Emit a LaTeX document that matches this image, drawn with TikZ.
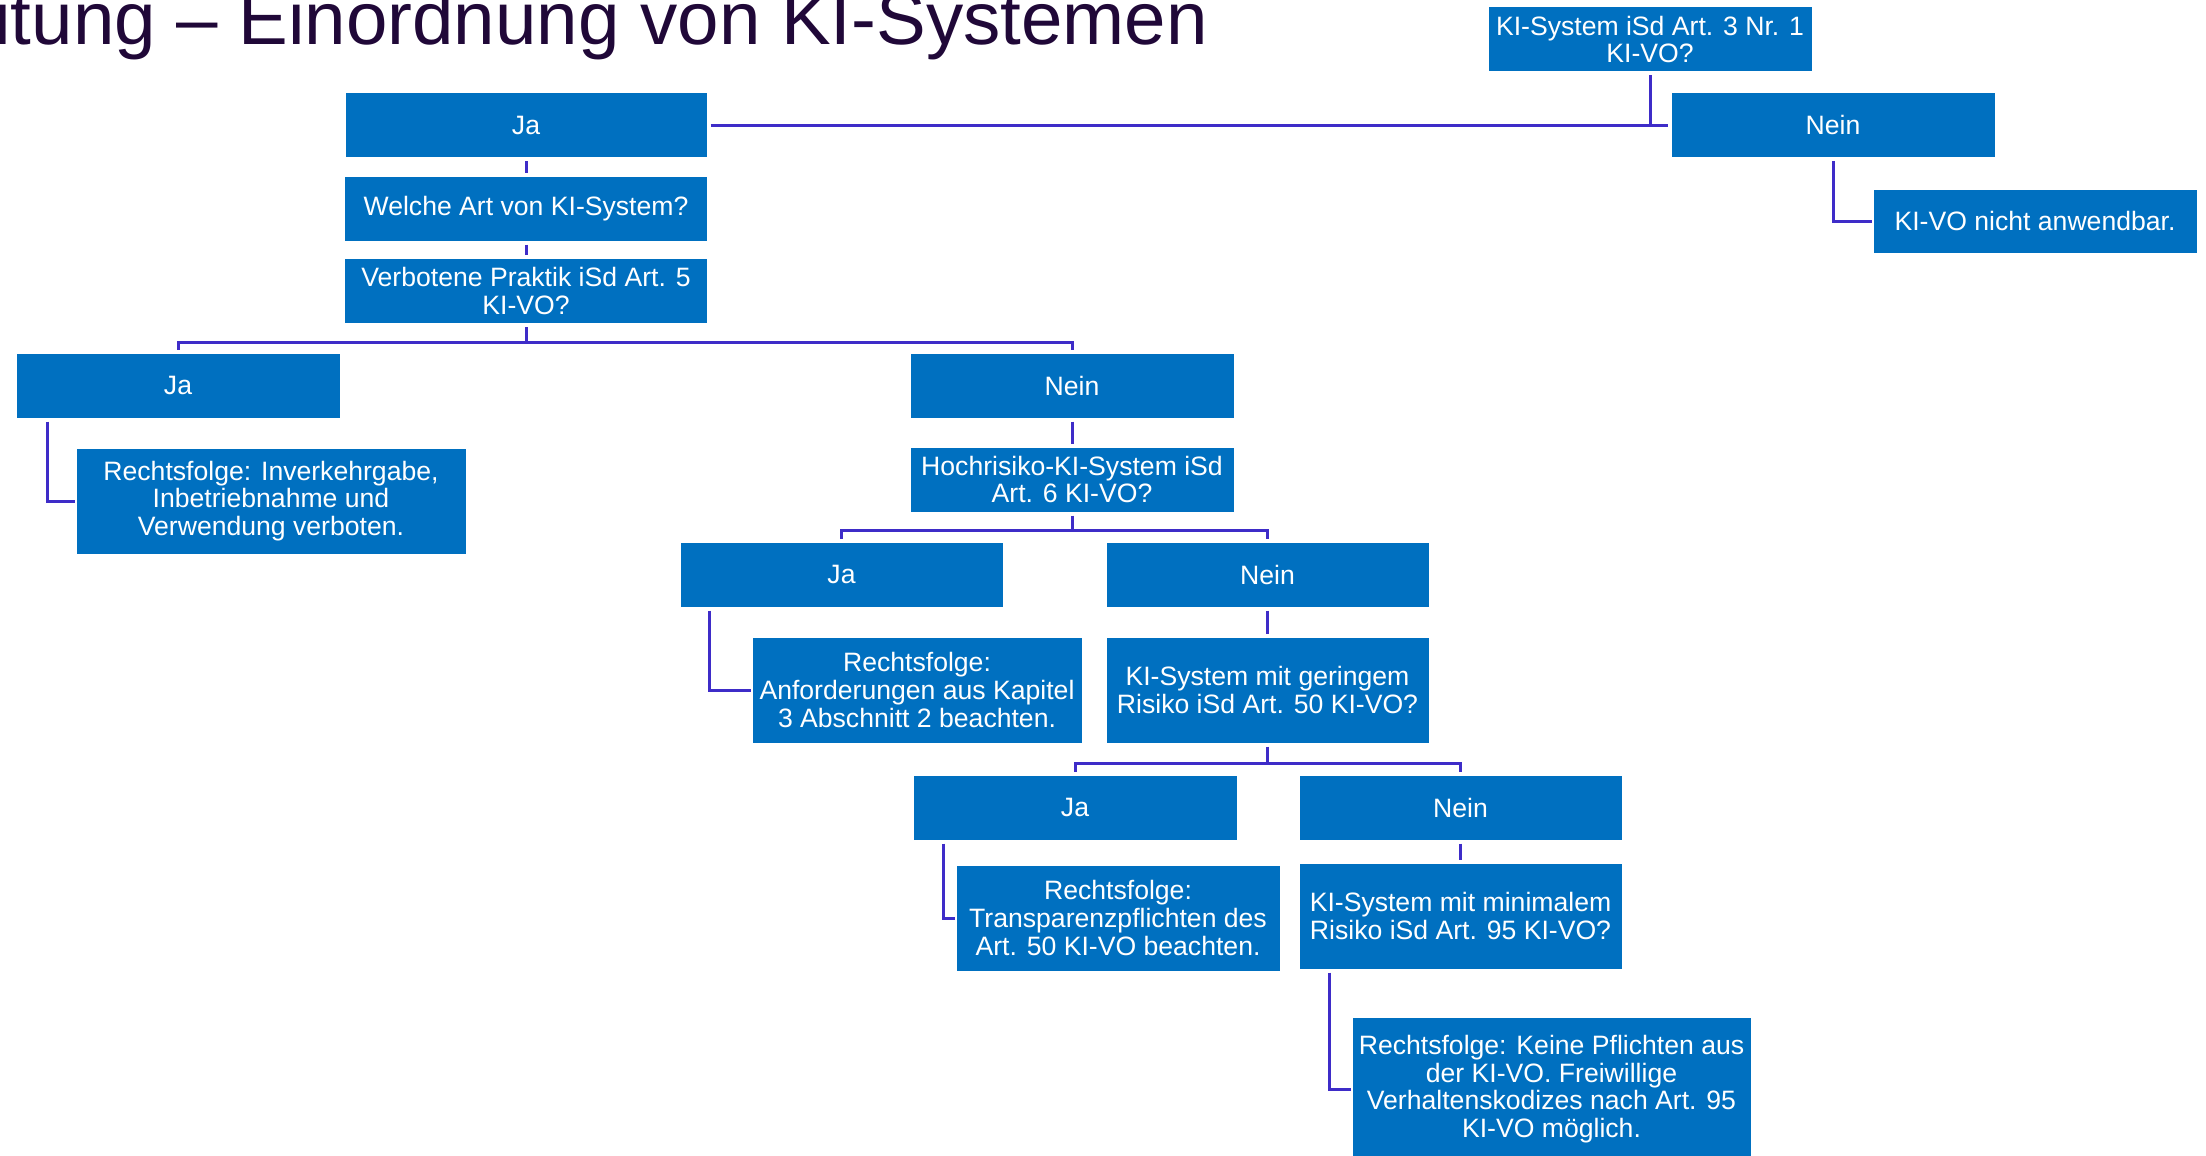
\documentclass[tikz,border=0pt]{standalone}
\usepackage{fontspec}
\setmainfont{Liberation Sans}
\definecolor{boxblue}{RGB}{0,112,192}
\definecolor{linecol}{RGB}{62,44,200}
\definecolor{titlecol}{RGB}{32,8,56}
\begin{document}
\begin{tikzpicture}[x=1pt,y=-1pt,
  box/.style={fill=boxblue, draw=white, line width=1pt, text=white, align=center,
    inner sep=0pt, font=\fontsize{26.6}{27.6}\selectfont},
  conn/.style={draw=linecol, line width=3pt},
]
\useasboundingbox (0,0) rectangle (2206,1156);
\node[anchor=base east, text=titlecol, font=\fontsize{74.5}{80}\selectfont, inner sep=0pt] (title) at (1208,45) {itung – Einordnung von KI-Systemen};

\node[box, minimum width=324pt, minimum height=65pt] (root) at (1650,39.5) {KI-System iSd Art. 3 Nr. 1\\KI-VO?};
\node[box, minimum width=362pt, minimum height=65pt] (ja1) at (526,125) {Ja};
\node[box, minimum width=324pt, minimum height=65pt] (nein1) at (1833,125) {Nein};
\node[box, minimum width=324pt, minimum height=64pt] (anw) at (2035,221) {KI-VO nicht anwendbar.};
\node[box, minimum width=363pt, minimum height=65pt] (welche) at (526,208.5) {Welche Art von KI-System?};
\node[box, minimum width=363pt, minimum height=65pt] (verb) at (526,291) {Verbotene Praktik iSd Art. 5\\KI-VO?};
\node[box, minimum width=324pt, minimum height=65pt] (ja2) at (178,385.5) {Ja};
\node[box, minimum width=324pt, minimum height=65pt] (nein2) at (1072,385.5) {Nein};
\node[box, minimum width=390pt, minimum height=106pt] (rf1) at (271,501) {Rechtsfolge: Inverkehrgabe,\\Inbetriebnahme und\\Verwendung verboten.};
\node[box, minimum width=324pt, minimum height=65pt] (hoch) at (1072,479.5) {Hochrisiko-KI-System iSd\\Art. 6 KI-VO?};
\node[box, minimum width=323pt, minimum height=65pt] (ja3) at (841.5,574.5) {Ja};
\node[box, minimum width=323pt, minimum height=65pt] (nein3) at (1267.5,574.5) {Nein};
\node[box, minimum width=330pt, minimum height=106pt] (rf2) at (917,690) {Rechtsfolge:\\Anforderungen aus Kapitel\\3 Abschnitt 2 beachten.};
\node[box, minimum width=323pt, minimum height=106pt] (gering) at (1267.5,690) {KI-System mit geringem\\Risiko iSd Art. 50 KI-VO?};
\node[box, minimum width=324pt, minimum height=65pt] (ja4) at (1075,807.5) {Ja};
\node[box, minimum width=323pt, minimum height=65pt] (nein4) at (1460.5,807.5) {Nein};
\node[box, minimum width=324pt, minimum height=106pt] (rf3) at (1118,918) {Rechtsfolge:\\Transparenzpflichten des\\Art. 50 KI-VO beachten.};
\node[box, minimum width=323pt, minimum height=106pt] (minimal) at (1460.5,916) {KI-System mit minimalem\\Risiko iSd Art. 95 KI-VO?};
\node[box, minimum width=399pt, minimum height=144pt] (rf4) at (1551.5,1089) {Rechtsfolge: Keine Pflichten aus\\der KI-VO. Freiwillige\\Verhaltenskodizes nach Art. 95\\KI-VO möglich.};

% top level
\draw[conn, shorten <=3pt] (root.south) -- (root.south |- ja1.east);
\draw[conn, shorten <=3pt, shorten >=3pt] (ja1.east) -- (nein1.west);
\draw[conn, shorten <=3pt, shorten >=1pt] (nein1.south) |- (anw.west);
\draw[conn, shorten <=3pt, shorten >=3pt] (ja1.south) -- (welche.north);
\draw[conn, shorten <=3pt, shorten >=3pt] (welche.south) -- (verb.north);

% fork 1
\coordinate (f1) at (526,342);
\draw[conn, shorten <=3pt] (verb.south) -- (f1);
\draw[conn, shorten >=3pt] (f1) -| (ja2.north);
\draw[conn, shorten >=3pt] (f1) -| (nein2.north);
\draw[conn, shorten <=3pt, shorten >=1pt] ([xshift=32pt]ja2.south west) |- (rf1.west);
\draw[conn, shorten <=3pt, shorten >=3pt] (nein2.south) -- (hoch.north);

% fork 2
\coordinate (f2) at (1072,530);
\draw[conn, shorten <=3pt] (hoch.south) -- (f2);
\draw[conn, shorten >=3pt] (f2) -| (ja3.north);
\draw[conn, shorten >=3pt] (f2) -| (nein3.north);
\draw[conn, shorten <=3pt, shorten >=1pt] ([xshift=30pt]ja3.south west) |- (rf2.west);
\draw[conn, shorten <=3pt, shorten >=3pt] (nein3.south) -- (gering.north);

% fork 3
\coordinate (f3) at (1267.5,763);
\draw[conn, shorten <=3pt] (gering.south) -- (f3);
\draw[conn, shorten >=3pt] (f3) -| (ja4.north);
\draw[conn, shorten >=3pt] (f3) -| (nein4.north);
\draw[conn, shorten <=3pt, shorten >=1pt] ([xshift=31pt]ja4.south west) |- (rf3.west);
\draw[conn, shorten <=3pt, shorten >=3pt] (nein4.south) -- (minimal.north);
\draw[conn, shorten <=3pt, shorten >=1pt] ([xshift=31pt]minimal.south west) |- (rf4.west);
\end{tikzpicture}
\end{document}
